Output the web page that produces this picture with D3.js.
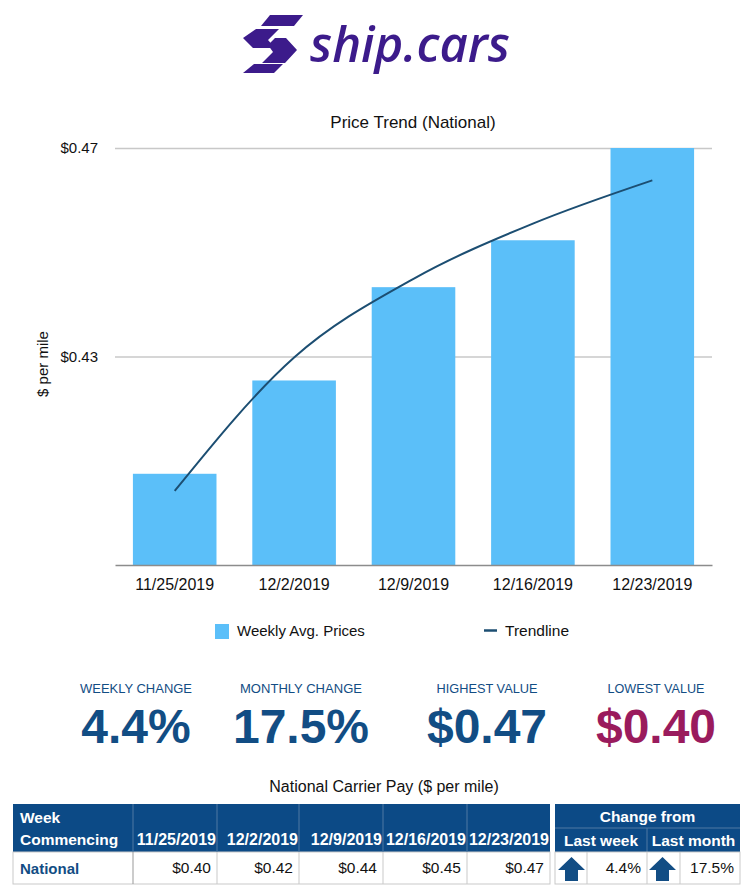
<!DOCTYPE html>
<html>
<head>
<meta charset="utf-8">
<script src="https://cdn.jsdelivr.net/npm/d3@7"></script>
<style>
  html, body { margin: 0; padding: 0; background: #fff; }
  svg { display: block; font-family: "Liberation Sans", Arial, Helvetica, sans-serif; }
</style>
</head>
<body>
<svg id="chart" width="746" height="887"></svg>
<script>
// ---- data ----
const weeks = ["11/25/2019", "12/2/2019", "12/9/2019", "12/16/2019", "12/23/2019"];
const weeklyAvgPrices = [0.4075, 0.4254, 0.4433, 0.4523, 0.47];
const trendline = [0.4042, 0.4298, 0.4449, 0.4555, 0.4638];
const yTickValues = [0.43, 0.47];
const yTickLabels = ["$0.43", "$0.47"];
const statLabels = ["WEEKLY CHANGE", "MONTHLY CHANGE", "HIGHEST VALUE", "LOWEST VALUE"];
const statValues = ["4.4%", "17.5%", "$0.47", "$0.40"];
const tableLabels = ["$0.40", "$0.42", "$0.44", "$0.45", "$0.47"];
const changeLabels = ["Last week", "Last month"];
const changeValues = ["4.4%", "17.5%"];

const svg = d3.select("#chart");
const BLUE = "#5bbff9", NAVY = "#124d84", TREND = "#1c4e72", PURPLE = "#3c1b8b";

svg.append("rect").attr("width", 746).attr("height", 887).attr("fill", "#fff");

// ---- logo ----
const logo = svg.append("g").attr("fill", PURPLE);
const logoShapes = [
  [[270,15],[303,15],[294,26],[261,26]],
  [[256,29],[279,29],[268,40],[275,48],[253,48],[243,38]],
  [[275,38],[286,38],[297,50],[285,63],[262,63],[273,52],[268,45]],
  [[254,64],[283,64],[274,73],[243,73]]
];
logoShapes.forEach(p => logo.append("path").attr("d", d3.line()(p) + "Z"));
svg.append("text").attr("x", 310).attr("y", 62)
  .attr("font-family", "'Open Sans', sans-serif").attr("font-weight", 600)
  .attr("font-style", "italic").attr("font-size", 48).attr("fill", PURPLE)
  .attr("textLength", 200).attr("lengthAdjust", "spacingAndGlyphs")
  .text("ship.cars");

// ---- chart ----
svg.append("text").attr("x", 413).attr("y", 128).attr("text-anchor", "middle")
  .attr("font-size", 17).attr("fill", "#111").text("Price Trend (National)");

const x = d3.scaleBand().domain(weeks).range([115, 712]).paddingInner(0.3).paddingOuter(0.15);
const y = d3.scaleLinear().domain([0.39, 0.47]).range([565, 148]);

// grid lines
const yAxis = d3.axisLeft(y).tickValues(yTickValues)
  .tickFormat((d, i) => yTickLabels[i]).tickSize(-(712 - 115)).tickPadding(17);
const gy = svg.append("g").attr("transform", "translate(115,0)").call(yAxis);
gy.select(".domain").remove();
gy.selectAll(".tick line").attr("stroke", "#c8c8c8").attr("stroke-width", 1.5);
gy.selectAll(".tick text").attr("font-size", 15).attr("fill", "#111")
  .attr("font-family", "'Liberation Sans', Arial, sans-serif");

// bars
svg.append("g").selectAll("rect").data(weeklyAvgPrices).join("rect")
  .attr("x", (d, i) => x(weeks[i])).attr("width", x.bandwidth())
  .attr("y", d => y(d)).attr("height", d => y(0.39) - y(d)).attr("fill", BLUE);

// baseline + x axis
const xAxis = d3.axisBottom(x).tickSize(0).tickPadding(14);
const gx = svg.append("g").attr("transform", `translate(0,${y(0.39)})`).call(xAxis);
gx.select(".domain").attr("stroke", "#8c8c8c").attr("stroke-width", 1.5);
gx.selectAll(".tick text").attr("font-size", 16).attr("fill", "#111")
  .attr("font-family", "'Liberation Sans', Arial, sans-serif");

// trendline
const line = d3.line().x((d, i) => x(weeks[i]) + x.bandwidth() / 2).y(d => y(d))
  .curve(d3.curveMonotoneX);
svg.append("path").datum(trendline).attr("d", line).attr("fill", "none")
  .attr("stroke", TREND).attr("stroke-width", 2);

// y label
svg.append("text").attr("transform", "translate(48,364) rotate(-90)")
  .attr("text-anchor", "middle").attr("font-size", 15).attr("fill", "#111").text("$ per mile");

// legend
svg.append("rect").attr("x", 215).attr("y", 624).attr("width", 14).attr("height", 15).attr("fill", BLUE);
svg.append("text").attr("x", 237).attr("y", 636).attr("font-size", 15).attr("fill", "#111").text("Weekly Avg. Prices");
svg.append("line").attr("x1", 484).attr("x2", 497).attr("y1", 630.5).attr("y2", 630.5)
  .attr("stroke", TREND).attr("stroke-width", 2.5);
svg.append("text").attr("x", 505).attr("y", 636).attr("font-size", 15.5).attr("fill", "#111").text("Trendline");

// ---- stats ----
const statCenters = [136, 301, 487, 656];
const statColors = [NAVY, NAVY, NAVY, "#9a1b5d"];
statLabels.forEach((s, i) => {
  svg.append("text").attr("x", statCenters[i]).attr("y", 693).attr("text-anchor", "middle")
    .attr("font-size", 13).attr("fill", NAVY).attr("textLength", [112, 122, 101, 97][i])
    .attr("lengthAdjust", "spacingAndGlyphs").text(s);
  svg.append("text").attr("x", statCenters[i]).attr("y", 743).attr("text-anchor", "middle")
    .attr("font-size", 48).attr("font-weight", "bold").attr("fill", statColors[i])
    .text(statValues[i]);
});

// ---- table ----
svg.append("text").attr("x", 384).attr("y", 792).attr("text-anchor", "middle")
  .attr("font-size", 16).attr("fill", "#111").text("National Carrier Pay ($ per mile)");

const HEAD = "#0c4a86", SEP = "#4f78a3", GRID = "#c9c9c9";
const colEdges = [13, 133, 217, 299, 383, 467, 550];
const tTop = 804, tHead = 852, tBot = 884;
svg.append("rect").attr("x", 13).attr("y", tTop).attr("width", 537).attr("height", tHead - tTop).attr("fill", HEAD);
svg.append("rect").attr("x", 13).attr("y", tHead).attr("width", 537).attr("height", tBot - tHead)
  .attr("fill", "#fff").attr("stroke", GRID);
colEdges.slice(1, -1).forEach(cx => {
  svg.append("line").attr("x1", cx).attr("x2", cx).attr("y1", tTop).attr("y2", tHead).attr("stroke", SEP);
  svg.append("line").attr("x1", cx).attr("x2", cx).attr("y1", tHead).attr("y2", tBot)
    .attr("stroke", cx === 133 ? "#999" : GRID);
});
svg.append("text").attr("x", 20).attr("y", 823).attr("font-size", 15.5).attr("font-weight", "bold").attr("fill", "#fff").text("Week");
svg.append("text").attr("x", 20).attr("y", 845).attr("font-size", 15.5).attr("font-weight", "bold").attr("fill", "#fff").text("Commencing");
svg.append("text").attr("x", 20).attr("y", 874).attr("font-size", 15).attr("font-weight", "bold").attr("fill", NAVY).text("National");
weeks.forEach((w, i) => {
  svg.append("text").attr("x", colEdges[i + 2] - 1).attr("y", 845).attr("text-anchor", "end")
    .attr("font-size", 16).attr("font-weight", "bold").attr("fill", "#fff").text(w);
  svg.append("text").attr("x", colEdges[i + 2] - 6).attr("y", 873).attr("text-anchor", "end")
    .attr("font-size", 15.5).attr("fill", "#111").text(tableLabels[i]);
});

// change table
const cL = 555, cR = 740, cMid = 647;
svg.append("rect").attr("x", cL).attr("y", tTop).attr("width", cR - cL).attr("height", tHead - tTop).attr("fill", HEAD);
svg.append("line").attr("x1", cL).attr("x2", cR).attr("y1", 828).attr("y2", 828).attr("stroke", SEP);
svg.append("line").attr("x1", cMid).attr("x2", cMid).attr("y1", 828).attr("y2", tHead).attr("stroke", SEP);
svg.append("rect").attr("x", cL).attr("y", tHead).attr("width", cR - cL).attr("height", tBot - tHead)
  .attr("fill", "#fff").attr("stroke", GRID);
[587, 647, 680].forEach(cx => svg.append("line").attr("x1", cx).attr("x2", cx)
  .attr("y1", tHead).attr("y2", tBot).attr("stroke", GRID));
svg.append("text").attr("x", 647.5).attr("y", 822).attr("text-anchor", "middle")
  .attr("font-size", 15.5).attr("font-weight", "bold").attr("fill", "#fff").text("Change from");
const subCenters = [601, 693.5];
const arrowX = [558, 649];
const valueRight = [641, 734];
changeLabels.forEach((lab, i) => {
  svg.append("text").attr("x", subCenters[i]).attr("y", 846).attr("text-anchor", "middle")
    .attr("font-size", 15.5).attr("font-weight", "bold").attr("fill", "#fff").text(lab);
  const ax = arrowX[i];
  svg.append("path").attr("fill", NAVY)
    .attr("d", `M${ax},870 L${ax + 13.5},857 L${ax + 27},870 L${ax + 20},870 L${ax + 20},881 L${ax + 7},881 L${ax + 7},870 Z`);
  svg.append("text").attr("x", valueRight[i]).attr("y", 873).attr("text-anchor", "end")
    .attr("font-size", 15.5).attr("fill", "#111").text(changeValues[i]);
});
</script>
</body>
</html>
